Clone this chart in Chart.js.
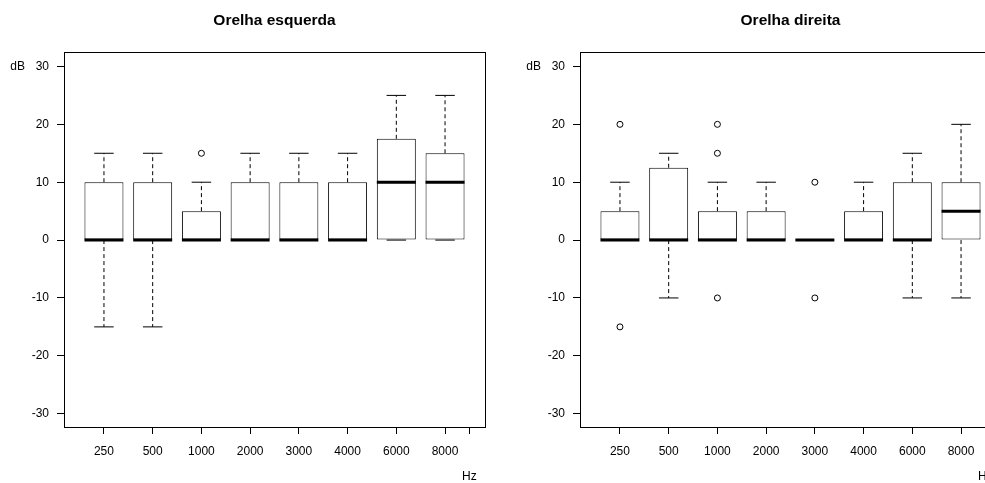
<!DOCTYPE html>
<html>
<head>
<meta charset="utf-8">
<script src="https://cdn.jsdelivr.net/npm/chart.js"></script>
<style>
  html, body { margin: 0; padding: 0; background: #fff; overflow: hidden; width: 985px; height: 483px; }
  .panel { position: absolute; top: 0; width: 500px; height: 483px; }
  #left-panel { left: 0; }
  #right-panel { left: 516px; }
</style>
</head>
<body>
<div class="panel" id="left-panel"><canvas id="left-chart" width="500" height="483"></canvas></div>
<div class="panel" id="right-panel"><canvas id="right-chart" width="500" height="483"></canvas></div>
<script>
// Frequências (eixo x) e ticks do eixo y
const freqLabels = ['250', '500', '1000', '2000', '3000', '4000', '6000', '8000'];
const yTicks = [-30, -20, -10, 0, 10, 20, 30];

// Orelha esquerda
const leftLow = [-15, -15, 0, 0, 0, 0, 0, 0];
const leftQ1 = [0, 0, 0, 0, 0, 0, 0, 0];
const leftMed = [0, 0, 0, 0, 0, 0, 10, 10];
const leftQ3 = [10, 10, 5, 10, 10, 10, 17.5, 15];
const leftHigh = [15, 15, 10, 15, 15, 15, 25, 25];
const leftOut = [[], [], [15], [], [], [], [], []];

// Orelha direita
const rightLow = [0, -10, 0, 0, 0, 0, -10, -10];
const rightQ1 = [0, 0, 0, 0, 0, 0, 0, 0];
const rightMed = [0, 0, 0, 0, 0, 0, 0, 5];
const rightQ3 = [5, 12.5, 5, 5, 0, 5, 10, 10];
const rightHigh = [10, 15, 10, 10, 0, 10, 15, 20];
const rightOut = [[20, -15], [], [20, 15, -10], [], [10, -10], [], [], []];

Chart.defaults.font.family = "'Liberation Sans', Arial, Helvetica, sans-serif";
Chart.defaults.color = '#000';

const boxHalf = 0.4;   // boxwex 0.8
const capHalf = 0.2;

// moldura + rótulos "dB" e "Hz"
const framePlugin = {
  id: 'frame',
  afterDraw(chart) {
    const { ctx, chartArea, scales } = chart;
    ctx.save();
    ctx.strokeStyle = '#000';
    ctx.lineWidth = 1;
    ctx.strokeRect(Math.round(chartArea.left) + 0.5, Math.round(chartArea.top) + 0.5,
      Math.round(chartArea.right - chartArea.left), Math.round(chartArea.bottom - chartArea.top));
    ctx.fillStyle = '#000';
    ctx.font = "12px 'Liberation Sans', Arial, sans-serif";
    ctx.textBaseline = 'middle';
    ctx.textAlign = 'right';
    ctx.fillText('dB', chartArea.left - 39, scales.y.getPixelForValue(30));
    ctx.textAlign = 'center';
    ctx.fillText('Hz', scales.x.getPixelForValue(8.5), 477);
    ctx.restore();
  }
};

function makeChart(id, title, low, q1, med, q3, high, out) {
  const boxes = [], whiskers = [], caps = [], medians = [], outliers = [];
  freqLabels.forEach((f, i) => {
    const x = i + 1;
    boxes.push({ x: x, y: [q1[i], q3[i]] });
    whiskers.push({ x: x, y: q3[i] }, { x: x, y: high[i] }, { x: x, y: null },
                  { x: x, y: q1[i] }, { x: x, y: low[i] }, { x: x, y: null });
    caps.push({ x: x - capHalf, y: high[i] }, { x: x + capHalf, y: high[i] }, { x: x, y: null },
              { x: x - capHalf, y: low[i] }, { x: x + capHalf, y: low[i] }, { x: x, y: null });
    medians.push({ x: x - boxHalf, y: med[i] }, { x: x + boxHalf, y: med[i] }, { x: x, y: null });
    out[i].forEach(v => outliers.push({ x: x, y: v }));
  });

  new Chart(document.getElementById(id), {
    type: 'bar',
    data: {
      datasets: [
        {
          // o tick extra em 8.5 reduz o "ruler" do Chart.js pela metade -> 2 * 0.8
          type: 'bar', data: boxes, order: 5,
          backgroundColor: '#fff', borderColor: '#000', borderWidth: 1, borderSkipped: false,
          barPercentage: 0.8, categoryPercentage: 2
        },
        {
          type: 'line', data: whiskers, order: 7, borderColor: '#000', borderWidth: 1,
          borderDash: [4, 3], pointRadius: 0, spanGaps: false, tension: 0
        },
        {
          type: 'line', data: caps, order: 6, borderColor: '#000', borderWidth: 1,
          pointRadius: 0, spanGaps: false, tension: 0
        },
        {
          type: 'line', data: medians, order: 1, borderColor: '#000', borderWidth: 3,
          borderCapStyle: 'butt', pointRadius: 0, spanGaps: false, tension: 0
        },
        {
          type: 'line', data: outliers, order: 0, showLine: false,
          pointStyle: 'circle', pointRadius: 3, pointBorderWidth: 1,
          pointBorderColor: '#000', pointBackgroundColor: 'rgba(0,0,0,0)'
        }
      ]
    },
    options: {
      responsive: false,
      animation: false,
      events: [],
      layout: { padding: { left: 0, right: 15, top: 0, bottom: 0 } },
      plugins: {
        legend: { display: false },
        tooltip: { enabled: false },
        title: {
          display: true, text: title, fullSize: false, color: '#000',
          font: { size: 15.5, weight: 'bold' },
          padding: { top: 11, bottom: 22.4 }
        }
      },
      scales: {
        x: {
          type: 'linear', min: 0.18, max: 8.82, offset: false,
          afterBuildTicks: s => { s.ticks = freqLabels.map((f, i) => ({ value: i + 1 })).concat([{ value: 8.5 }]); },
          afterFit: s => { s.height = 56; },
          ticks: {
            autoSkip: false, maxRotation: 0, padding: 10, color: '#000', font: { size: 12 },
            callback: v => (Number.isInteger(v) ? freqLabels[v - 1] : '')
          },
          grid: { display: true, drawOnChartArea: false, drawTicks: true, tickLength: 7, color: '#000', offset: false },
          border: { display: true, color: '#000' }
        },
        y: {
          type: 'linear', min: -32.3, max: 32.5,
          afterBuildTicks: s => { s.ticks = yTicks.map(v => ({ value: v })); },
          afterFit: s => { s.width = 64; },
          ticks: { padding: 8, color: '#000', font: { size: 12 }, callback: v => String(v) },
          grid: { display: true, drawOnChartArea: false, drawTicks: true, tickLength: 7, color: '#000' },
          border: { display: true, color: '#000' }
        }
      }
    },
    plugins: [framePlugin]
  });
}

makeChart('left-chart', 'Orelha esquerda', leftLow, leftQ1, leftMed, leftQ3, leftHigh, leftOut);
makeChart('right-chart', 'Orelha direita', rightLow, rightQ1, rightMed, rightQ3, rightHigh, rightOut);
</script>
</body>
</html>
